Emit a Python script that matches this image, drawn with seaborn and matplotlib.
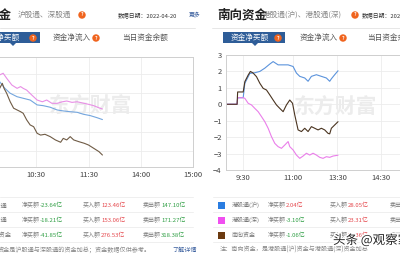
import numpy as np
import pandas as pd
import seaborn as sns
import matplotlib.pyplot as plt
import matplotlib.patheffects as pe
from matplotlib.patches import Rectangle

# ---- northbound (left panel), minutes after 9:30 (lunch removed), 亿元
north_min_sh = [15, 18, 21, 24, 30, 38, 45, 53, 61, 68, 76, 84, 91, 99, 107, 114, 122, 130, 136]
north_sh = [-3.5, -4.2, -5.9, -7.6, -10.1, -11.9, -12.7, -13.6, -16.1, -16.5,
            -17.3, -18.7, -19.2, -19.6, -19.9, -20.9, -21.6, -22.7, -23.64]
north_min_sz = [15, 18, 22, 26, 32, 38, 42, 45, 49, 55, 61, 67, 72, 78, 84, 90, 95, 101, 107, 115,
                120, 126, 132, 136]
north_sz = [-1.5, -0.7, 0.15, -2.4, -5.9, -7.6, -6.7, -7.6, -8.5, -11.1, -13.6, -14.5, -13.6, -15.3,
            -15.3, -14.5, -14.1, -14.8, -14.5, -15.3, -15.8, -16.5, -17.6, -18.21]
north_min_all = [15, 18, 21, 23, 26, 30, 34, 38, 42, 45, 49, 53, 57, 61, 65, 70, 76, 82, 88, 91,
                 95, 99, 103, 109, 115, 120, 126, 132, 136]
north_all = [-6.0, -7.6, -5.0, -7.6, -10.1, -14.4, -17.8, -18.7, -19.6, -20.4, -23.8, -26.4, -27.3,
             -30.7, -31.6, -31.2, -32.4, -34.1, -35.3, -33.3, -34.1, -32.4, -34.1, -35.0, -35.8,
             -36.7, -38.4, -40.1, -41.85]
north_ticks = [60, 120, 180, 240]
north_tick_labels = ["10:30", "11:30", "14:00", "15:00"]

# ---- southbound (right panel), minutes after 9:00 (lunch removed), 亿元
south_min_sh = [0, 20, 21, 31, 34, 43, 52, 61, 70, 79, 85, 94, 103, 112, 121, 127, 133, 142, 148,
                154, 163, 172, 181, 187, 190, 196, 202]
south_sh = [0, 0, 0.4, 0.4, 1.28, 1.88, 1.92, 2.0, 2.2, 2.45, 2.6, 2.4, 2.4, 2.4, 2.3, 1.9, 1.7,
            1.6, 1.4, 1.7, 1.8, 1.7, 1.6, 1.4, 1.55, 1.8, 2.04]
south_min_sz = [0, 20, 21, 31, 34, 40, 46, 52, 58, 64, 70, 76, 82, 88, 94, 100, 106, 112, 115, 121,
                127, 133, 139, 145, 151, 157, 163, 169, 175, 181, 187, 193, 202]
south_sz = [0, 0, 0.4, 0.4, 0.36, 0.06, -0.04, -0.25, -0.45, -0.75, -1.06, -1.46, -1.97, -2.38,
            -2.58, -2.68, -2.48, -2.27, -2.58, -2.78, -3.09, -3.29, -3.15, -2.98, -3.09, -2.98,
            -3.09, -3.23, -3.29, -3.19, -3.23, -3.15, -3.10]
south_min_all = [0, 20, 21, 31, 34, 40, 44, 49, 55, 61, 67, 73, 79, 85, 91, 97, 103, 109, 115, 120,
                 124, 130, 136, 142, 148, 154, 160, 166, 172, 178, 184, 187, 190, 196, 202]
south_all = [0, 0, 0.75, 0.75, 1.38, 1.78, 2.0, 1.9, 1.68, 1.28, 0.97, 0.87, 0.57, 0.26, -0.04,
             -0.25, -0.45, -0.04, 0.26, 0.06, -0.65, -1.56, -1.66, -1.46, -1.66, -1.36, -1.46,
             -1.56, -1.46, -1.56, -1.77, -1.8, -1.46, -1.26, -1.06]
south_ticks = [30, 120, 201, 280]
south_tick_labels = ["9:30", "11:00", "13:30", "14:30"]

north_names = ["沪股通", "深股通", "北向资金"]
north_net = ["-23.64", "-18.21", "-41.85"]
north_buy = ["123.46", "153.06", "276.53"]
north_sell = ["147.10", "171.27", "318.38"]
south_names = ["港股通(沪)", "港股通(深)", "南向资金"]
south_net = ["2.04", "-3.10", "-1.06"]
south_buy = ["28.05", "23.31", "51.36"]
south_sell = ["26.01", "26.41", "52.42"]

sns.set_theme(style="white")
plt.rcParams["font.family"] = ["Noto Sans CJK SC", "DejaVu Sans"]

W, H = 400, 260
fig = plt.figure(figsize=(4, 2.6), dpi=100)
fig.patch.set_facecolor("white")


def fx(x):
    return x / W


def fy(y):
    return 1 - y / H


def rect(l, t, r, b):
    return [fx(l), fy(b), (r - l) / W, (b - t) / H]


def txt(x, y, s, size=5.5, color="#555555", ha="left", **kw):
    fig.text(fx(x), fy(y), s, fontsize=size, color=color, ha=ha, va="center", **kw)


def pair(x, y, label, value, vcolor, size=4.3):
    # gray label followed by a coloured amount, like "净买额-23.64亿"
    txt(x, y, label, size=size, color="#7a7a7a")
    txt(x + 18, y, value + "亿", size=size, color=vcolor)


def qmark(x, y):
    fig.text(fx(x), fy(y), "?", fontsize=3.5, color="white", ha="center", va="center",
             fontweight="bold",
             bbox=dict(boxstyle="circle,pad=0.25", fc="#f0641e", ec="none"))


def hline(x0, x1, y, color="#e3e3e3", lw=0.6):
    fig.add_artist(plt.Line2D([fx(x0), fx(x1)], [fy(y), fy(y)], color=color, lw=lw,
                              transform=fig.transFigure))


def style_axes(ax):
    for s in ax.spines.values():
        s.set_color("#cfcfcf")
        s.set_linewidth(0.7)
    ax.grid(True, color="#ececec", lw=0.6)
    ax.tick_params(axis="both", length=0, labelsize=5.5, colors="#444444", pad=3)
    ax.set_xlabel("")
    ax.set_ylabel("")


# ---- left chart
df_n = pd.concat([
    pd.DataFrame({"m": north_min_sh, "v": north_sh, "s": "沪股通"}),
    pd.DataFrame({"m": north_min_sz, "v": north_sz, "s": "深股通"}),
    pd.DataFrame({"m": north_min_all, "v": north_all, "s": "北向资金"}),
])
ax1 = fig.add_axes(rect(-16, 57, 193, 167))
ax1.text(0.51, 0.55, "东方财富", transform=ax1.transAxes, fontsize=15, color="#ececec",
         ha="center", va="center", fontweight="bold", zorder=0)
sns.lineplot(data=df_n, x="m", y="v", hue="s", estimator=None, legend=False, lw=0.8, ax=ax1,
             palette={"沪股通": "#74a6de", "深股通": "#e88ee6", "北向资金": "#6f5b45"})
ax1.set_xlim(0, 240)
ax1.set_ylim(-48, 8.5)
ax1.set_xticks(north_ticks)
ax1.set_xticklabels(north_tick_labels)
ax1.set_yticks([0, -10, -20, -30, -40])
ax1.set_yticklabels([])
style_axes(ax1)

# ---- right chart
df_s = pd.concat([
    pd.DataFrame({"m": south_min_sh, "v": south_sh, "s": "港股通(沪)"}),
    pd.DataFrame({"m": south_min_sz, "v": south_sz, "s": "港股通(深)"}),
    pd.DataFrame({"m": south_min_all, "v": south_all, "s": "南向资金"}),
])
ax2 = fig.add_axes(rect(226, 55, 409, 170))
ax2.text(0.6, 0.55, "东方财富", transform=ax2.transAxes, fontsize=15, color="#ececec",
         ha="center", va="center", fontweight="bold", zorder=0)
sns.lineplot(data=df_s, x="m", y="v", hue="s", estimator=None, legend=False, lw=0.8, ax=ax2,
             palette={"港股通(沪)": "#5b93dc", "港股通(深)": "#ea7eea", "南向资金": "#4a3420"})
ax2.set_xlim(0, 330)
ax2.set_ylim(-4, 3)
ax2.set_xticks(south_ticks)
ax2.set_xticklabels(south_tick_labels)
ax2.set_yticks(range(-4, 4))
style_axes(ax2)

# ---- headers
txt(12, 15, "北向资金", size=9, color="#222222", ha="right", fontweight="bold")
txt(18, 15, "沪股通、深股通", size=5.5, color="#888888")
qmark(82, 15)
txt(118, 15, "数据日期：2022-04-20", size=4.2, color="#333333")
txt(189, 15, "更多", size=4.2, color="#3a5f9e")
txt(217, 15, "南向资金", size=9, color="#222222", fontweight="bold")
txt(263, 15, "港股通(沪)、港股通(深)", size=5.5, color="#888888")
qmark(355, 15)
txt(362, 15, "数据日期：2022-04-20", size=4.2, color="#333333")
hline(0, 195, 28)
hline(212, 400, 28)

# tabs
for l, r, label, tip in [(-30, 40, "资金净买额", 13), (223, 285, "资金净买额", 255)]:
    fig.add_artist(Rectangle((fx(l), fy(43)), (r - l) / W, 11 / H, transform=fig.transFigure,
                             fc="#2e5d98", ec="none"))
    fig.add_artist(plt.Polygon([[fx(tip - 3), fy(43)], [fx(tip + 3), fy(43)], [fx(tip), fy(46)]],
                               closed=True, transform=fig.transFigure, fc="#2e5d98", ec="none"))
    txt((l + r) / 2 - 4, 38, label, size=5.5, color="white", ha="center")
    qmark(r - 7, 38)
txt(53, 38, "资金净流入", size=5.5, color="#555555")
qmark(96, 38)
txt(122, 38, "当日资金余额", size=5.5, color="#555555")
txt(300, 38, "资金净流入", size=5.5, color="#555555")
qmark(343, 38)
txt(367, 38, "当日资金余额", size=5.5, color="#555555")

# ---- tables
green, red, gray = "#2f9e44", "#e5484d", "#7a7a7a"
row_y = [205, 220, 235]
for y in [197, 212, 227, 242]:
    hline(0, 193, y, color="#ececec")
    hline(213, 400, y, color="#ececec")
for i, y in enumerate(row_y):
    txt(8 if i < 2 else 12, y, north_names[i], size=4.5, color=gray, ha="right")
    pair(22, y, "净买额", north_net[i], green)
    pair(83, y, "买入额", north_buy[i], red)
    pair(143, y, "卖出额", north_sell[i], green)

swatches = ["#2a7de1", "#f04ff0", "#6b3a10"]
for i, y in enumerate(row_y):
    fig.add_artist(Rectangle((fx(218), fy(y + 3.5)), 7 / W, 7 / H, transform=fig.transFigure,
                             fc=swatches[i], ec="none"))
    txt(232, y, south_names[i], size=4.3, color=gray)
    pair(268, y, "净买额", south_net[i], green if south_net[i].startswith("-") else red)
    pair(330, y, "买入额", south_buy[i], red)
    pair(390, y, "卖出额", south_sell[i], green)

txt(-2, 250, "资金是沪股通与深股通的资金加总；资金数据仅供参考。", size=4.4, color="#888888")
txt(172, 250, "了解详情", size=4.4, color="#3a5f9e")
txt(220, 250, "注：南向资金，是港股通(沪)资金与港股通(深)资金加总", size=4.4, color="#888888")

# watermark
fig.text(fx(333), fy(240), "头条 @观察家", fontsize=9, color="#222222", ha="left", va="center",
         path_effects=[pe.withStroke(linewidth=2, foreground="white")])

fig.savefig("out.png", dpi=100, facecolor="white")
plt.close(fig)
